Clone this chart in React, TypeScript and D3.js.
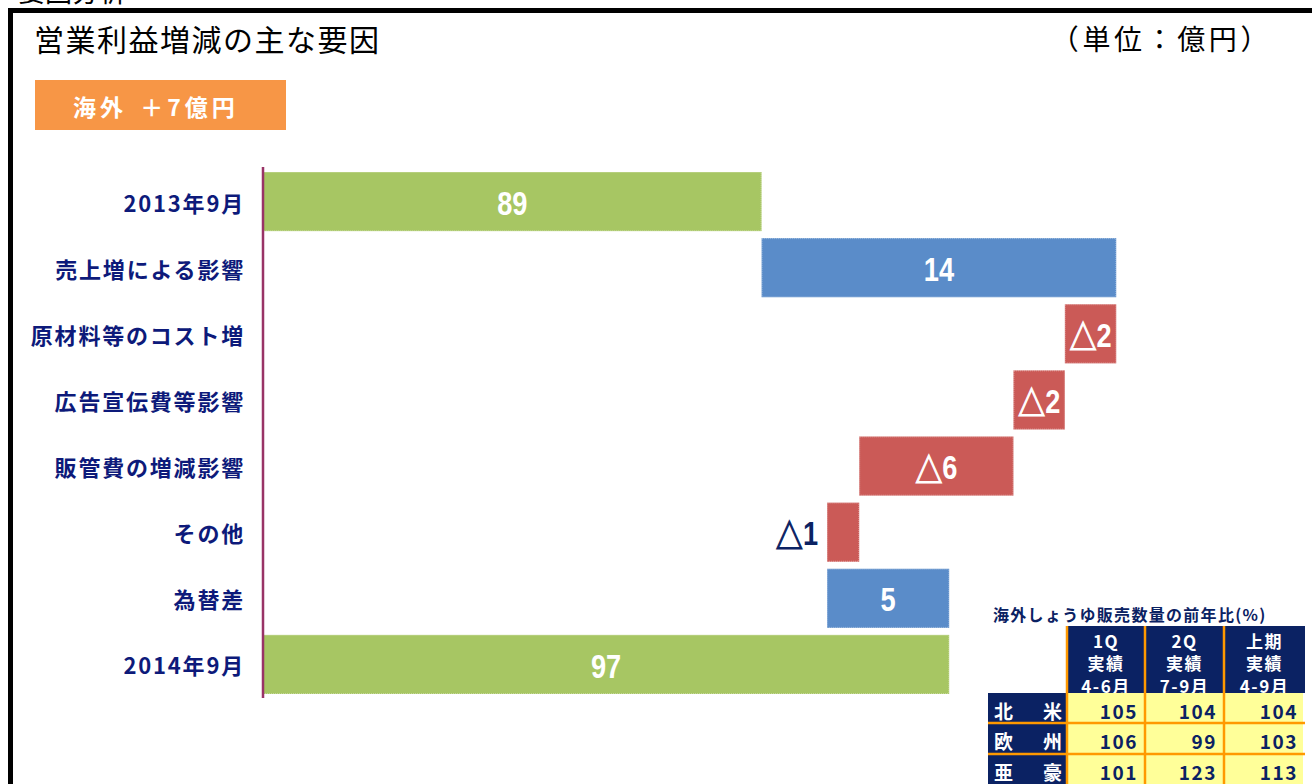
import React from "react";
import * as d3 from "d3";

const categories = [
  "2013年9月",
  "売上増による影響",
  "原材料等のコスト増",
  "広告宣伝費等影響",
  "販管費の増減影響",
  "その他",
  "為替差",
  "2014年9月",
];
// estimated underlying values (億円); totals are absolute, others are changes
const values = [89.4, 13.8, -2.0, -2.0, -6.0, -1.25, 4.75, 96.7];
const kinds = ["total", "delta", "delta", "delta", "delta", "delta", "delta", "total"];
const valueLabels = ["89", "14", "△2", "△2", "△6", "△1", "5", "97"];

const tableTitle = "海外しょうゆ販売数量の前年比(%)";
const tableHeaders = [
  ["1Q", "実績", "4-6月"],
  ["2Q", "実績", "7-9月"],
  ["上期", "実績", "4-9月"],
];
const tableRegions = [
  ["北", "米"],
  ["欧", "州"],
  ["亜", "豪"],
];
const tableValues = [
  [105, 104, 104],
  [106, 99, 103],
  [101, 123, 113],
];

const GREEN = "#A7C663";
const BLUE = "#5A8CC9";
const RED = "#CB5A57";
const NAVY = "#0D1A7A";
const TNAVY = "#0B2263";
const ORANGE = "#F79646";
const CJK = "'Noto Sans CJK JP', 'Noto Sans', sans-serif";
const NUM = "'Liberation Sans', Arial, sans-serif";

function ValueLabel({ cx, cy, label, anchor, fill }: { cx: number; cy: number; label: string; anchor: string; fill: string }) {
  const hasTri = label.startsWith("△");
  const num = hasTri ? label.slice(1) : label;
  return (
    <text
      transform={`translate(${cx},${cy}) scale(0.8,1)`}
      x={0}
      y={0}
      textAnchor={anchor as any}
      dominantBaseline="central"
      fontFamily={NUM}
      fontWeight="bold"
      fontSize={34}
      fill={fill}
    >
      {hasTri && (
        <tspan fontFamily={CJK} fontWeight="bold" fontSize={34} stroke={fill} strokeWidth={1.2}>
          △
        </tspan>
      )}
      <tspan>{num}</tspan>
    </text>
  );
}

export default function App() {
  const W = 1312;
  const H = 784;

  const x = d3.scaleLinear().domain([70, 110]).range([263, 263 + 40 * 25.7]);
  const y = d3
    .scaleBand<string>()
    .domain(categories)
    .range([168.5, 697.5])
    .paddingInner(0.106)
    .paddingOuter(0.053);

  // waterfall segments
  let cum = 0;
  const bars = values.map((v, i) => {
    let a: number, b: number, color: string;
    if (kinds[i] === "total") {
      a = x.domain()[0];
      b = v;
      cum = v;
      color = GREEN;
    } else {
      a = cum;
      b = cum + v;
      cum = b;
      color = v >= 0 ? BLUE : RED;
    }
    const x0 = x(Math.min(a, b));
    const x1 = x(Math.max(a, b));
    return { i, x0, x1, color, label: valueLabels[i], cat: categories[i] };
  });

  // table geometry
  const colX = [1067, 1145, 1224, 1305];
  const labelX0 = 988;
  const headTop = 626;
  const headBot = 693;
  const rowY = [693, 723, 754, 785];

  return (
    <svg
      width={W}
      height={H}
      style={{ position: "absolute", left: 0, top: 0, display: "block", background: "#fff" }}
    >
      {/* section heading, cut off by the top edge as in the original */}
      <text x={18} y={2} fontFamily={CJK} fontSize={27} fill="#000">
        要因分析
      </text>
      {/* frame */}
      <rect x={8} y={8} width={W} height={5} fill="#000" />
      <rect x={8} y={8} width={5} height={H} fill="#000" />

      {/* title */}
      <text x={34} y={38} fontFamily={CJK} fontSize={30} letterSpacing={1.5} dominantBaseline="central" fill="#000">
        営業利益増減の主な要因
      </text>
      <text
        x={1272}
        y={38}
        fontFamily={CJK}
        fontSize={28}
        letterSpacing={3.6}
        textAnchor="end"
        dominantBaseline="central"
        fill="#000"
      >
        （単位：億円）
      </text>

      {/* orange badge */}
      <rect x={35} y={80} width={251} height={50} fill={ORANGE} />
      <text
        x={73}
        y={106}
        fontFamily={CJK}
        fontSize={23}
        fontWeight="bold"
        letterSpacing={4}
        wordSpacing={4}
        fill="#fff"
        dominantBaseline="central"
      >
        海外 ＋7億円
      </text>

      {/* bars */}
      {bars.map((d) => {
        const by = y(d.cat)!;
        const bh = y.bandwidth();
        const bw = d.x1 - d.x0;
        const inside = bw > 45;
        return (
          <g key={d.i}>
            <rect x={d.x0} y={by} width={bw} height={bh} fill={d.color} />
            <rect
              x={d.x0 + 0.5}
              y={by + 0.5}
              width={bw - 1}
              height={bh - 1}
              fill="none"
              stroke="#ffffff"
              strokeOpacity={0.35}
              strokeDasharray="1,1"
            />
            <ValueLabel
              cx={inside ? (d.x0 + d.x1) / 2 : d.x0 - 9}
              cy={by + bh / 2 + 1}
              label={d.label}
              anchor={inside ? "middle" : "end"}
              fill={inside ? "#fff" : TNAVY}
            />
          </g>
        );
      })}

      {/* axis line */}
      <line x1={263} x2={263} y1={167} y2={698} stroke="#993366" strokeWidth={2.5} />

      {/* category labels */}
      {categories.map((c) => (
        <text
          key={c}
          x={245}
          y={y(c)! + y.bandwidth() / 2}
          textAnchor="end"
          dominantBaseline="central"
          fontFamily={CJK}
          fontWeight="bold"
          fontSize={22}
          letterSpacing={1.8}
          fill={NAVY}
        >
          {c}
        </text>
      ))}

      {/* table */}
      <text
        x={993}
        y={614}
        dominantBaseline="central"
        fontFamily={CJK}
        fontWeight="bold"
        fontSize={16}
        letterSpacing={1.3}
        fill={TNAVY}
      >
        {tableTitle}
      </text>
      <rect x={colX[0]} y={headTop} width={colX[3] - colX[0]} height={headBot - headTop} fill={TNAVY} />
      {tableHeaders.map((lines, j) =>
        lines.map((t, k) => (
          <text
            key={`h${j}${k}`}
            x={(colX[j] + colX[j + 1]) / 2}
            y={640 + k * 22.5}
            textAnchor="middle"
            dominantBaseline="central"
            fontFamily={CJK}
            fontWeight="bold"
            fontSize={17}
            letterSpacing={1.5}
            fill="#fff"
          >
            {t}
          </text>
        ))
      )}
      {tableRegions.map((r, i) => (
        <g key={`r${i}`}>
          <rect x={labelX0} y={rowY[i]} width={colX[0] - labelX0} height={rowY[i + 1] - rowY[i]} fill={TNAVY} />
          <rect x={colX[0]} y={rowY[i]} width={colX[3] - colX[0] - 2} height={rowY[i + 1] - rowY[i]} fill="#FFFF99" />
          <text x={994} y={(rowY[i] + rowY[i + 1]) / 2 + 2} dominantBaseline="central" fontFamily={CJK} fontWeight="bold" fontSize={19} fill="#fff">
            {r[0]}
          </text>
          <text x={1062} y={(rowY[i] + rowY[i + 1]) / 2 + 2} textAnchor="end" dominantBaseline="central" fontFamily={CJK} fontWeight="bold" fontSize={19} fill="#fff">
            {r[1]}
          </text>
          {tableValues[i].map((v, j) => (
            <text
              key={`v${i}${j}`}
              x={colX[j + 1] - 7}
              y={(rowY[i] + rowY[i + 1]) / 2 + 2}
              textAnchor="end"
              dominantBaseline="central"
              fontFamily={CJK}
              fontWeight="bold"
              fontSize={19}
              letterSpacing={1.5}
              fill={TNAVY}
            >
              {v}
            </text>
          ))}
        </g>
      ))}
      {/* orange grid lines */}
      {colX.slice(0, 3).map((cx, j) => (
        <line key={`vl${j}`} x1={cx} x2={cx} y1={headTop} y2={H} stroke="#FF9900" strokeWidth={2.5} />
      ))}
      {rowY.slice(1, 3).map((ry, i) => (
        <line key={`hl${i}`} x1={labelX0} x2={colX[3]} y1={ry} y2={ry} stroke="#FF9900" strokeWidth={2.5} />
      ))}
    </svg>
  );
}
